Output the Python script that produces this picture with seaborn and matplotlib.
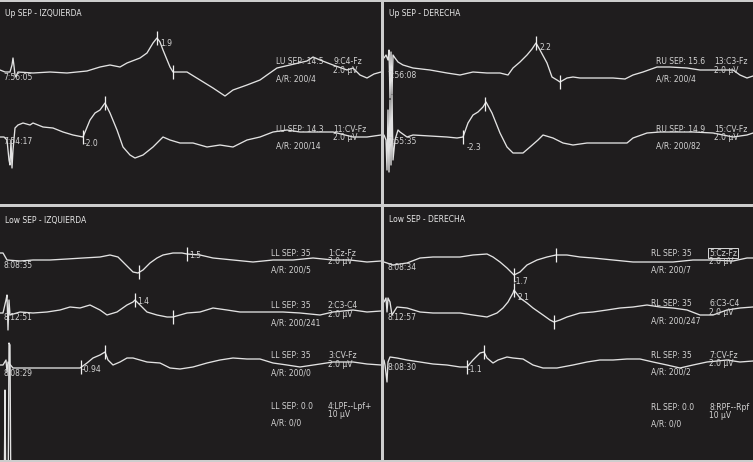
import numpy as np
import pandas as pd
import matplotlib
matplotlib.use("Agg")
import matplotlib.pyplot as plt
import seaborn as sns

# ---------------- data (x = sample index within sweep, uV = deflection, negative up) -------------
# Upper SEP - IZQUIERDA
tl_c4fz_x = [0, 5, 10, 12, 13, 14, 15, 16, 18, 33, 50, 67, 87, 100, 110, 120, 127, 140, 147, 153, 157, 160,
             163, 170, 173, 187, 200, 213, 225, 233, 247, 260, 267, 277, 290, 307, 313, 320, 333, 347, 353,
             360, 367, 374, 381]
tl_c4fz_uv = [-0.2, 0, 0, -0.7, -1.4, -0.6, 0.3, 0.5, 0, 0.1, 0, 0.1, -0.1, -0.5, -0.7, -0.5, -0.9, -1.4,
              -1.9, -2.9, -3.4, -3.0, -2.2, -0.5, 0, 0, 0.8, 1.6, 2.4, 1.8, 1.3, 0.8, 0.3, -0.4, -0.7, -1.1,
              -1.5, -1.2, -0.7, -0.2, -0.4, 0.3, 0.6, 0.2, 0]
tl_cvfz_x = [0, 4, 7, 8, 9, 10, 11, 12, 13, 15, 18, 23, 30, 33, 43, 53, 63, 73, 83, 90, 95, 100, 105, 110,
             117, 123, 130, 135, 143, 153, 163, 170, 180, 193, 207, 220, 233, 247, 260, 273, 287, 300, 320,
             333, 353, 367, 381]
tl_cvfz_uv = [0, 0, 0.3, 1.3, 2.3, 2.8, 0.3, 3.1, 1.3, -0.9, -1.2, -1.4, -1.2, -1.4, -1.0, -0.9, -0.5, -0.2,
              0, -1.7, -2.4, -2.7, -3.4, -2.4, -0.7, 1.0, 1.8, 2.1, 1.8, 1.0, 0, 0.3, 0.6, 0.6, 1.0, 0.8, 1.0,
              0.3, 0, -0.5, -0.7, -0.5, -0.5, -0.5, 0, 0, -0.2]
# Upper SEP - DERECHA
tr_c3fz_x = [0, 2, 4, 5, 6, 7, 8, 9, 11, 14, 19, 29, 46, 63, 76, 89, 103, 116, 124, 129, 136, 143, 148, 152,
             156, 163, 168, 173, 176, 183, 189, 196, 213, 229, 241, 249, 259, 273, 286, 303, 316, 329, 349,
             356, 363, 369]
tr_c3fz_uv = [-1.2, -1.5, -1.0, -2.0, 2.8, -1.8, 2.4, -1.5, -1.2, -0.8, -0.5, -0.2, 0, 0.3, 0.5, 0.2, 0.3,
              0.3, 0.5, -0.2, -0.8, -1.5, -2.1, -2.7, -2.0, -0.7, 0.7, 1.0, 1.2, 0.8, 0.7, 0.8, 0.8, 0.8, 0.9,
              0.5, 0.2, -0.3, -0.3, -0.2, 0, 0, 0, 0.5, 0.8, 0.6]
tr_cvfz_x = [0, 2, 3, 4, 5, 6, 7, 8, 9, 11, 14, 16, 23, 29, 46, 63, 73, 79, 84, 89, 94, 99, 102, 108, 116,
             123, 129, 139, 146, 154, 159, 169, 179, 189, 203, 216, 229, 243, 249, 263, 276, 289, 309, 329,
             349, 363, 369]
tr_cvfz_uv = [-0.2, 0.3, 3.3, -2.7, 3.5, -3.7, 2.8, -4.2, 2.3, 0.3, -0.7, -0.5, 0, -0.2, -0.1, 0, 0.1, 0,
              -1.4, -2.2, -2.5, -3.0, -3.5, -2.4, -0.4, 1.0, 1.6, 1.6, 1.0, 0.3, -0.2, 0.1, 0.6, 0.8, 0.6,
              0.6, 0.6, 0.6, 0.1, -0.4, -0.5, -0.5, -0.5, -0.4, 0, -0.2, -0.4]
# Lower SEP - IZQUIERDA
bl_czfz_x = [0, 3, 7, 20, 33, 50, 67, 83, 100, 110, 118, 123, 128, 133, 138, 143, 150, 157, 163, 173, 182,
             187, 200, 213, 233, 253, 273, 293, 313, 333, 350, 367, 381]
bl_czfz_uv = [-0.7, -0.7, 0, 0.1, 0, 0, -0.1, -0.2, -0.3, -0.5, -0.3, 0.2, 0.7, 1.2, 1.3, 1.0, 0.3, -0.2,
              -0.5, -0.7, -0.7, -0.6, -0.5, -0.2, 0, 0.2, 0, 0, -0.2, 0, 0, 0.2, 0.1]
bl_c3c4_x = [0, 3, 6, 7, 8, 9, 10, 20, 33, 47, 60, 70, 80, 90, 100, 107, 117, 127, 133, 135, 140, 147, 157,
             167, 173, 187, 200, 213, 227, 240, 253, 267, 283, 300, 320, 333, 353, 367, 381]
bl_c3c4_uv = [0, 0, -1.3, -1.8, 1.7, -1.3, 0.2, -0.1, 0, -0.1, -0.3, -0.6, -0.5, -0.8, -0.3, 0.2, -0.1,
              -0.8, -1.1, -1.3, -0.8, -0.1, 0.2, 0.4, 0.4, 0, -0.1, -0.5, -0.3, -0.1, -0.1, -0.1, -0.1, 0,
              0.2, -0.1, -0.3, -0.1, -0.2]
bl_cvfz_x = [0, 3, 6, 7, 8, 13, 33, 50, 67, 80, 87, 93, 100, 105, 108, 113, 120, 127, 133, 147, 160, 170,
             180, 193, 207, 220, 233, 247, 260, 273, 287, 300, 320, 333, 353, 367, 381]
bl_cvfz_uv = [-0.3, -0.3, -0.8, 0.4, -0.6, 0, 0, 0, 0, 0, -0.5, -1.0, -1.3, -1.6, -0.8, -0.3, -0.6, -1.0,
              -1.0, -0.6, -0.5, 0, 0.1, -0.1, -0.5, -0.8, -1.0, -0.9, -0.9, -0.5, -0.3, -0.1, -0.4, -0.6,
              -0.6, -0.4, -0.3]
bl_lpf_x = [0, 4, 5, 6, 8, 9, 10, 11, 381]
bl_lpf_uv = [10.0, 10.0, -3.0, 10.0, 10.0, -7.7, -7.5, 10.0, 10.0]
# Lower SEP - DERECHA
br_czfz_x = [0, 9, 23, 36, 49, 63, 76, 89, 103, 109, 116, 123, 128, 130, 136, 143, 153, 163, 172, 183, 196,
             209, 229, 249, 269, 289, 309, 329, 349, 363, 369]
br_czfz_uv = [0, 0.3, 0.1, -0.4, -0.5, -0.5, -0.5, -0.7, -0.8, -0.5, 0, 0.6, 1.1, 1.3, 1.0, 0.3, -0.2, -0.5,
              -0.7, -0.7, -0.5, -0.4, -0.2, 0, 0, 0, -0.2, -0.2, -0.1, -0.4, -0.4]
br_c3c4_x = [0, 2, 3, 4, 6, 8, 13, 23, 36, 49, 63, 76, 89, 103, 113, 119, 124, 129, 130, 136, 143, 149, 159,
             166, 170, 176, 183, 196, 209, 223, 236, 249, 263, 276, 289, 303, 316, 329, 343, 356, 369]
br_c3c4_uv = [-1.1, -1.5, -0.1, -1.5, -1.1, 0.2, -0.6, -0.5, -0.1, 0, 0, 0, 0.2, 0.4, 0, -0.5, -1.1, -2.0,
              -2.3, -1.5, -1.0, -0.5, 0.2, 0.7, 0.9, 0.7, 0.4, 0, -0.1, -0.3, -0.5, -0.6, -0.8, -0.6, -0.5,
              -0.3, 0.2, 0.2, -0.3, -0.5, -0.6]
br_cvfz_x = [0, 1, 3, 4, 6, 13, 23, 36, 49, 63, 76, 83, 89, 96, 100, 103, 109, 114, 123, 129, 139, 149, 159,
             173, 189, 203, 216, 229, 243, 256, 269, 283, 296, 309, 323, 343, 356, 369]
br_cvfz_uv = [-0.3, 0.2, 1.9, -0.1, -0.6, -0.5, -0.3, -0.1, 0.1, 0.2, 0.4, 0.4, -0.3, -1.0, -1.1, -0.5, 0,
              -0.3, -0.6, -0.5, -0.4, 0.2, 0.5, 0.5, 0.2, -0.1, -0.3, -0.3, -0.4, -0.4, -0.1, 0.2, 0.5, 0.2,
              -0.1, -0.3, -0.1, -0.2]

# channel baselines (display offsets) and cursor positions
tl_base = [7.2, 13.7]
tr_base = [7.0, 13.7]
bl_base = [5.5, 10.8, 16.3, 21.5]
br_base = [5.7, 10.8, 15.8]
tl_cursors = [[157, 173], [83, 105]]
tr_cursors = [[152, 176], [79, 101]]
bl_cursors = [[139, 187], [135, 173], [81, 105]]
br_cursors = [[130, 172], [130, 170], [83, 100]]

# text
panel_titles = ["Up SEP - IZQUIERDA", "Up SEP - DERECHA", "Low SEP - IZQUIERDA", "Low SEP - DERECHA"]
tl_times = ["7:56:05", "7:54:17"]
tr_times = ["7:56:08", "7:55:35"]
bl_times = ["8:08:35", "8:12:51", "8:08:29"]
br_times = ["8:08:34", "8:12:57", "8:08:30"]
tl_sites = ["LU SEP: 14.5", "LU SEP: 14.3"]
tr_sites = ["RU SEP: 15.6", "RU SEP: 14.9"]
bl_sites = ["LL SEP: 35", "LL SEP: 35", "LL SEP: 35", "LL SEP: 0.0"]
br_sites = ["RL SEP: 35", "RL SEP: 35", "RL SEP: 35", "RL SEP: 0.0"]
tl_chans = ["9:C4-Fz", "11:CV-Fz"]
tr_chans = ["13:C3-Fz", "15:CV-Fz"]
bl_chans = ["1:Cz-Fz", "2:C3-C4", "3:CV-Fz", "4:LPF--Lpf+"]
br_chans = ["5:Cz-Fz", "6:C3-C4", "7:CV-Fz", "8:RPF--Rpf"]
tl_gains = ["2.0 µV", "2.0 µV"]
tr_gains = ["2.0 µV", "2.0 µV"]
bl_gains = ["2.0 µV", "2.0 µV", "2.0 µV", "10 µV"]
br_gains = ["2.0 µV", "2.0 µV", "2.0 µV", "10 µV"]
tl_ar = ["A/R: 200/4", "A/R: 200/14"]
tr_ar = ["A/R: 200/4", "A/R: 200/82"]
bl_ar = ["A/R: 200/5", "A/R: 200/241", "A/R: 200/0", "A/R: 0/0"]
br_ar = ["A/R: 200/7", "A/R: 200/247", "A/R: 200/2", "A/R: 0/0"]
tl_label_rows = [6.2, 12.9]
tr_label_rows = [6.2, 12.9]
bl_label_rows = [4.8, 10.1, 15.1, 20.1]
br_label_rows = [4.8, 9.9, 15.0, 20.2]
tl_amps = [("1.9", 160, 4.4), ("-2.0", 84, 14.3)]
tr_amps = [("2.2", 156, 4.8), ("-2.3", 83, 14.7)]
bl_amps = [("1.5", 189, 5.0), ("1.4", 137, 9.6), ("-0.94", 82, 16.5)]
br_amps = [("-1.7", 130, 7.6), ("2.1", 133, 9.3), ("-1.1", 84, 16.5)]

# ---------------- drawing -------------------------------------------------------------------
sns.set_theme(style="white")
plt.rcParams["font.family"] = ["DejaVu Sans"]

BG = "#1f1d1e"
FG = "#e2e2e2"
TXT = "#d4d4d4"

W, H = 753, 462
fig = plt.figure(figsize=(W / 100, H / 100), dpi=100, facecolor="#cdcdcd")

def make_ax(x0, y0, x1, y1, ylo, yhi):
    ax = fig.add_axes([x0 / W, 1 - y1 / H, (x1 - x0) / W, (y1 - y0) / H])
    ax.set_facecolor(BG)
    ax.set_xlim(0, x1 - x0)
    ax.set_ylim(ylo, yhi)
    ax.set_xticks([])
    ax.set_yticks([])
    for s in ax.spines.values():
        s.set_visible(False)
    return ax

ax_tl = make_ax(0, 2, 381, 204, 20.4, 0.2)
ax_tr = make_ax(384, 2, 753, 204, 20.4, 0.2)
ax_bl = make_ax(0, 207, 381, 460, 25.5, 0.2)
ax_br = make_ax(384, 207, 753, 460, 25.5, 0.2)

panels = [
    (ax_tl, [(tl_c4fz_x, tl_c4fz_uv), (tl_cvfz_x, tl_cvfz_uv)], tl_base, tl_cursors, tl_times, tl_sites,
     tl_chans, tl_gains, tl_ar, tl_label_rows, tl_amps, 276, 333, 1.3),
    (ax_tr, [(tr_c3fz_x, tr_c3fz_uv), (tr_cvfz_x, tr_cvfz_uv)], tr_base, tr_cursors, tr_times, tr_sites,
     tr_chans, tr_gains, tr_ar, tr_label_rows, tr_amps, 272, 330, 1.3),
    (ax_bl, [(bl_czfz_x, bl_czfz_uv), (bl_c3c4_x, bl_c3c4_uv), (bl_cvfz_x, bl_cvfz_uv), (bl_lpf_x, bl_lpf_uv)],
     bl_base, bl_cursors, bl_times, bl_sites, bl_chans, bl_gains, bl_ar, bl_label_rows, bl_amps, 271, 328, 1.5),
    (ax_br, [(br_czfz_x, br_czfz_uv), (br_c3c4_x, br_c3c4_uv), (br_cvfz_x, br_cvfz_uv)],
     br_base, br_cursors, br_times, br_sites, br_chans, br_gains, br_ar, br_label_rows, br_amps, 267, 325, 1.5),
]

fs = 5.5
for pi, (ax, traces, base, cursors, times, sites, chans, gains, ars, lrows, amps, xs, xc, ty) in enumerate(panels):
    for ti, (xv, uv) in enumerate(traces):
        xv = np.asarray(xv, float)
        yv = base[ti] + np.asarray(uv, float)
        df = pd.DataFrame({"x": xv, "y": yv})
        sns.lineplot(data=df, x="x", y="y", ax=ax, color=FG, lw=0.95, sort=False, estimator=None)
        if ti < len(cursors):
            cx = np.asarray(cursors[ti], float)
            cy = np.interp(cx, xv, yv)
            ax.vlines(cx, cy - 0.7, cy + 0.7, color="#f0f0f0", lw=0.9)
        if ti < len(times):
            ax.text(3, base[ti] + 0.5, times[ti], color=TXT, fontsize=fs, va="center", ha="left")
    ax.set_xlabel("")
    ax.set_ylabel("")
    ax.text(5, ty, panel_titles[pi], color="#e8e8e8", fontsize=fs, va="center", ha="left")
    for ci in range(len(sites)):
        r = lrows[ci]
        ax.text(xs, r, sites[ci], color=TXT, fontsize=fs, va="center", ha="left")
        bbox = None
        if pi == 3 and ci == 0:
            bbox = dict(boxstyle="square,pad=0.12", fc="none", ec="#d8d8d8", lw=0.7)
        ax.text(xc, r, chans[ci], color=TXT, fontsize=fs, va="center", ha="left", bbox=bbox, clip_on=True)
        ax.text(xc, r + 0.82, gains[ci], color=TXT, fontsize=fs, va="center", ha="left")
        ax.text(xs, r + 1.7, ars[ci], color=TXT, fontsize=fs, va="center", ha="left")
    for lab, ax_x, ax_y in amps:
        ax.text(ax_x, ax_y, lab, color=TXT, fontsize=fs, va="center", ha="left")

fig.savefig("out.png", dpi=100, facecolor=fig.get_facecolor())
